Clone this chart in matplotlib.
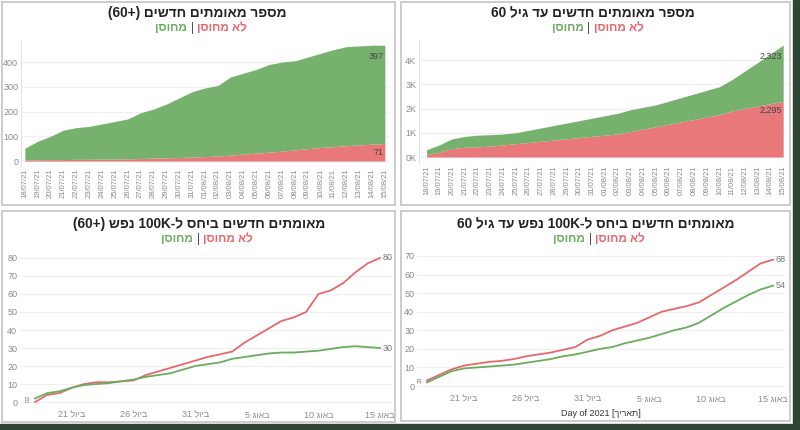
import re
import matplotlib.pyplot as plt
from matplotlib.patches import Rectangle

plt.rcParams['font.family'] = ['Liberation Sans', 'DejaVu Sans']

# --- data ---------------------------------------------------------------
dates = ['18/07/21', '19/07/21', '20/07/21', '21/07/21', '22/07/21', '23/07/21',
         '24/07/21', '25/07/21', '26/07/21', '27/07/21', '28/07/21', '29/07/21',
         '30/07/21', '31/07/21', '01/08/21', '02/08/21', '03/08/21', '04/08/21',
         '05/08/21', '06/08/21', '07/08/21', '08/08/21', '09/08/21', '10/08/21',
         '11/08/21', '12/08/21', '13/08/21', '14/08/21', '15/08/21']

# new confirmed 60+ (counts)
old_unvacc = [5, 5, 6, 6, 7, 7, 8, 8, 9, 10, 12, 13, 14, 16, 18, 20, 24, 28, 32,
              36, 40, 45, 50, 55, 58, 62, 65, 68, 71]
old_vacc = [47, 75, 94, 119, 128, 133, 142, 152, 161, 185, 198, 217, 241, 264,
            277, 285, 316, 327, 338, 354, 360, 360, 370, 380, 392, 400, 400, 400, 397]

# new confirmed under 60 (counts)
young_unvacc = [100, 200, 350, 400, 420, 450, 500, 550, 600, 650, 700, 750, 800,
                850, 900, 950, 1050, 1150, 1250, 1350, 1450, 1550, 1650, 1750,
                1900, 2000, 2100, 2200, 2295]
young_vacc = [200, 300, 400, 450, 480, 470, 450, 450, 500, 550, 600, 650, 700,
              750, 800, 850, 900, 900, 900, 950, 1000, 1050, 1100, 1150, 1300,
              1550, 1800, 2050, 2323]

# per 100K, 60+
old_rate_unvacc = [0, 4, 5, 8, 10, 11, 11, 11.5, 12, 15, 17, 19, 21, 23, 25, 26.5,
                   28, 33, 37, 41, 45, 47, 50, 60, 62, 66, 72, 77, 80]
old_rate_vacc = [2, 5, 6, 8, 9.5, 10, 10.5, 11.5, 12.5, 14, 15, 16, 18, 20, 21, 22,
                 24, 25, 26, 27, 27.5, 27.5, 28, 28.5, 29.5, 30.5, 31, 30.5, 30]

# per 100K, under 60
young_rate_unvacc = [3, 6, 9, 11, 12, 13, 13.5, 14.5, 16, 17, 18, 19.5, 21, 25, 27,
                     30, 32, 34, 37, 40, 41.5, 43, 45, 49, 53, 57, 61.5, 66, 68]
young_rate_vacc = [2, 5, 8, 9.5, 10, 10.5, 11, 11.5, 12.5, 13.5, 14.5, 16, 17, 18.5,
                   20, 21, 23, 24.5, 26, 28, 30, 31.5, 34, 38, 42, 45.5, 49, 52, 54]

bottom_ticks = [3, 8, 13, 18, 23, 28]
bottom_tick_days = ['21', '26', '31', '5', '10', '15']
bottom_tick_months = ['ביול', 'ביול', 'ביול', 'באוג', 'באוג', 'באוג']

titles = ['מספר מאומתים חדשים (+60)',
          'מספר מאומתים חדשים עד גיל 60',
          'מאומתים חדשים ביחס ל-100K נפש (+60)',
          'מאומתים חדשים ביחס ל-100K נפש עד גיל 60']
lbl_unvacc = 'לא מחוסן'
lbl_vacc = 'מחוסן'

RED = '#e8787a'
GREEN = '#76b26d'
RED_LINE = '#e8676b'
GREEN_LINE = '#6aad5f'
TICK = '#8a8a8a'


def rtl(s):
    # simple logical -> visual order for Hebrew with embedded numbers
    r = s[::-1]
    r = re.sub(r'[0-9A-Za-z,.]+', lambda m: m.group(0)[::-1], r)
    return r.translate(str.maketrans('()[]', ')(]['))


W, H = 800, 430
fig = plt.figure(figsize=(8, 4.3), dpi=100)
fig.patch.set_facecolor('white')


def fx(x):
    return x / W


def fy(y):
    return 1 - y / H


def ax_at(x0, y0, x1, y1):
    ax = fig.add_axes([fx(x0), fy(y1), (x1 - x0) / W, (y1 - y0) / H])
    ax.set_zorder(3)
    ax.patch.set_alpha(0)
    return ax


# background strips and panel frames
fig.patches.append(Rectangle((fx(793), 0), 1, 1, transform=fig.transFigure,
                             color='#2f4634', zorder=0))
fig.patches.append(Rectangle((0, 0), 1, fy(424), transform=fig.transFigure,
                             color='#2f4634', zorder=0))
for (x0, y0, x1, y1) in [(2, 2, 395, 205), (401, 2, 790, 205),
                         (2, 211, 395, 422), (401, 211, 790, 421)]:
    fig.patches.append(Rectangle((fx(x0), fy(y1)), (x1 - x0) / W, (y1 - y0) / H,
                                 transform=fig.transFigure, facecolor='white',
                                 edgecolor='#c4c4c4', lw=1.2, zorder=1))


def header(cx, ty, bar_x, title):
    fig.text(fx(cx), fy(ty), rtl(title), ha='center', va='center',
             fontsize=9.8, fontweight='bold', color='#222222')
    sy = fy(ty + 15)
    fig.text(fx(bar_x), sy, '|', ha='center', va='center', fontsize=8.5, color='#555555')
    fig.text(fx(bar_x + 5), sy, rtl(lbl_unvacc), ha='left', va='center',
             fontsize=8.5, fontweight='bold', color=RED_LINE)
    fig.text(fx(bar_x - 5), sy, rtl(lbl_vacc), ha='right', va='center',
             fontsize=8.5, fontweight='bold', color=GREEN_LINE)


def style(ax):
    for s in ax.spines.values():
        s.set_visible(False)
    ax.tick_params(length=0, labelsize=6.5, colors=TICK, pad=2)
    ax.grid(axis='y', color='#efefef', lw=0.8)
    ax.set_axisbelow(True)


x = list(range(len(dates)))


# --- top panels: stacked areas ------------------------------------------
def area_panel(box_px, unvacc, vacc, ylim, yticks, yticklabels):
    ax = ax_at(*box_px)
    style(ax)
    ax.spines['left'].set_visible(True)
    ax.spines['left'].set_color('#e2e2e2')
    total = [a + b for a, b in zip(unvacc, vacc)]
    ax.fill_between(x, 0, unvacc, color=RED, lw=0)
    ax.fill_between(x, unvacc, total, color=GREEN, lw=0)
    ax.set_ylim(*ylim)
    ax.set_yticks(yticks)
    ax.set_yticklabels(yticklabels)
    ax.set_xticks(x)
    ax.set_xticklabels(dates, rotation=90, fontsize=5.5)
    ax.annotate(f'{vacc[-1]:,}', (x[-1], total[-1]), xytext=(-1, -5),
                textcoords='offset points', ha='right', va='top',
                fontsize=6.5, color='#444444')
    ax.annotate(f'{unvacc[-1]:,}', (x[-1], unvacc[-1]), xytext=(-1, -3),
                textcoords='offset points', ha='right', va='top',
                fontsize=6.5, color='#444444')
    return ax


ax1 = area_panel((21, 40, 390, 166), old_unvacc, old_vacc, (-20, 489),
                 [0, 100, 200, 300, 400], ['0', '100', '200', '300', '400'])
ax1.set_xlim(-0.3, 28.4)
header(197, 13, 192, titles[0])

ax2 = area_panel((419, 40, 787, 163), young_unvacc, young_vacc, (-247, 4825),
                 [0, 1000, 2000, 3000, 4000], ['0K', '1K', '2K', '3K', '4K'])
ax2.set_xlim(-0.6, 28.3)
header(593, 13, 589, titles[1])


# --- bottom panels: lines -----------------------------------------------
def line_panel(box_px, unvacc, vacc, ylim, yticks, xlim):
    ax = ax_at(*box_px)
    style(ax)
    ax.plot(x, unvacc, color=RED_LINE, lw=1.3)
    ax.plot(x, vacc, color=GREEN_LINE, lw=1.3)
    ax.set_ylim(*ylim)
    ax.set_xlim(*xlim)
    ax.set_yticks(yticks)
    ax.set_xticks(bottom_ticks)
    ax.set_xticklabels([d + ' ' + rtl(m) for d, m in zip(bottom_tick_days, bottom_tick_months)])
    for series in (unvacc, vacc):
        ax.annotate(f'{series[-1]:g}', (x[-1], series[-1]), xytext=(2, 0),
                    textcoords='offset points', ha='left', va='center',
                    fontsize=6.5, color='#777777')
        ax.annotate(f'{series[0]:g}', (x[0], series[0]), xytext=(-3, 1),
                    textcoords='offset points', ha='right', va='center',
                    rotation=90, fontsize=4.5, color='#777777')
    return ax


ax3 = line_panel((20, 252, 392, 408), old_rate_unvacc, old_rate_vacc,
                 (-3.3, 83.3), list(range(0, 81, 10)), (-1.22, 28.97))
header(199, 224, 198, titles[2])

ax4 = line_panel((417, 250, 785, 392), young_rate_unvacc, young_rate_vacc,
                 (-3.2, 73.2), list(range(0, 71, 10)), (-0.81, 28.97))
ax4.set_xlabel('Day of 2021 [' + rtl('תאריך') + ']', fontsize=6.5, color='#333333',
               labelpad=4)
header(596, 224, 590, titles[3])

fig.savefig('out.png', dpi=100)
